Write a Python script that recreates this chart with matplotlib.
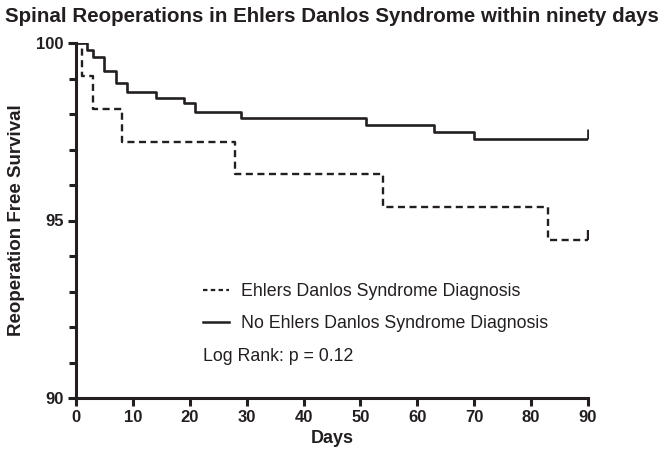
import matplotlib
matplotlib.use("Agg")
import matplotlib.pyplot as plt
from matplotlib.lines import Line2D
from matplotlib.ticker import MultipleLocator

# Data
eds_days = [0, 1, 3, 8, 28, 54, 83, 90]
eds_surv = [100, 99.07, 98.15, 97.22, 96.30, 95.37, 94.44, 94.44]
noeds_days = [0, 2, 3, 5, 7, 9, 14, 19, 21, 29, 51, 63, 70, 90]
noeds_surv = [100, 99.8, 99.6, 99.22, 98.86, 98.63, 98.44, 98.3, 98.07, 97.88, 97.69, 97.48, 97.30, 97.30]
x_ticks = [0, 10, 20, 30, 40, 50, 60, 70, 80, 90]
y_ticks = [90, 95, 100]
labels = ["Ehlers Danlos Syndrome Diagnosis", "No Ehlers Danlos Syndrome Diagnosis"]
title = "Spinal Reoperations in Ehlers Danlos Syndrome within ninety days"

reg = ["Liberation Sans", "DejaVu Sans"]

fig = plt.figure(figsize=(6.64, 4.58), dpi=100)
ax = fig.add_axes([76/664, 1-398/458, 512/664, 355/458])

col = "#231f20"
ax.plot(eds_days, eds_surv, drawstyle="steps-post", color=col, lw=1.7,
        linestyle=(0, (3.0, 1.9)))
ax.plot(noeds_days, noeds_surv, drawstyle="steps-post", color=col, lw=1.9)
# censor ticks at end
ax.plot([eds_days[-1]], [eds_surv[-1]], marker=2, markersize=7, color=col, mew=1.7, ls="none")
ax.plot([noeds_days[-1]], [noeds_surv[-1]], marker=2, markersize=7, color=col, mew=1.9, ls="none")

ax.set_xlim(0, 90)
ax.set_ylim(90, 100)
ax.set_xticks(x_ticks)
ax.set_yticks(y_ticks)
ax.yaxis.set_minor_locator(MultipleLocator(1))
for s in ["top", "right"]:
    ax.spines[s].set_visible(False)
for s in ["left", "bottom"]:
    ax.spines[s].set_linewidth(2.2)
    ax.spines[s].set_color(col)
ax.tick_params(which="major", length=6, width=2.2, color=col, direction="out", pad=3)
ax.tick_params(which="minor", length=5, width=2.2, color=col, direction="out")
for t in ax.get_xticklabels() + ax.get_yticklabels():
    t.set_fontfamily(reg)
    t.set_fontweight("bold")
    t.set_fontsize(12)
    t.set_color(col)

ax.set_xlabel("Days", fontfamily=reg, fontweight="bold", fontsize=13, color=col, labelpad=3)
ax.set_ylabel("Reoperation Free Survival", fontfamily=reg, fontweight="bold", fontsize=13.5, color=col, labelpad=8)
fig.text(0.5, 1-16/458, title, ha="center", va="center", fontfamily=reg,
         fontweight="bold", fontsize=14.8, color=col)

handles = [Line2D([], [], color=col, lw=1.6, linestyle=(0, (2.0, 1.5))),
           Line2D([], [], color=col, lw=1.8)]
leg = ax.legend(handles, labels, loc="center left", bbox_to_anchor=(0.248, 0.255),
                frameon=False, prop={"family": reg, "size": 12.8}, handlelength=1.45,
                handletextpad=0.7, labelspacing=0.85, borderaxespad=0, borderpad=0)
for t in leg.get_texts():
    t.set_color(col)
ax.text(0.248, 0.118, "Log Rank: p = 0.12", transform=ax.transAxes, fontfamily=reg,
        fontsize=12.8, color=col, va="center", ha="left")

fig.savefig("out.png", dpi=100)
